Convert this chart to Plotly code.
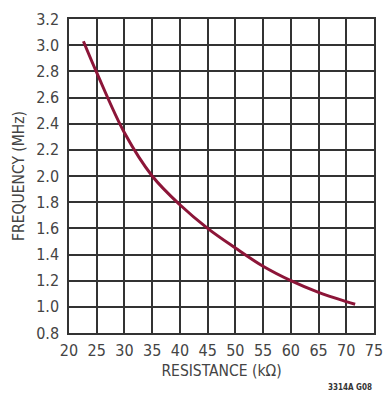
import plotly.graph_objects as go

resistance_kohm = [22.6, 25, 30, 35, 40, 45, 50, 55, 60, 65, 70, 71.6]
frequency_mhz = [3.03, 2.79, 2.33, 2.0, 1.78, 1.6, 1.45, 1.31, 1.2, 1.11, 1.04, 1.02]
x_ticks = list(range(20, 80, 5))
y_ticks = [round(0.8 + 0.2 * i, 1) for i in range(13)]

FONT = "DejaVu Sans Condensed, Liberation Sans Narrow, Arial Narrow, sans-serif"
TXT = "#444444"

fig = go.Figure()
fig.add_trace(go.Scatter(
    x=resistance_kohm, y=frequency_mhz, mode="lines",
    line=dict(color="#8c1538", width=3, shape="spline"),
    showlegend=False, hoverinfo="skip"))

fig.update_layout(
    width=391, height=394,
    margin=dict(l=69, r=8, t=19, b=61),
    paper_bgcolor="white", plot_bgcolor="white",
    font=dict(family=FONT, color=TXT, size=15),
    xaxis=dict(range=[20, 75], tickvals=x_ticks, ticktext=[str(v) for v in x_ticks],
               showgrid=True, gridcolor="#333333", gridwidth=1.5,
               showline=True, linecolor="#333333", linewidth=1.5, mirror=True,
               zeroline=False, ticks="outside", ticklen=2, tickcolor="white",
               tickfont=dict(size=16, family=FONT, color=TXT),
               title=dict(text="RESISTANCE (kΩ)", font=dict(size=15.5, family=FONT, color=TXT), standoff=6)),
    yaxis=dict(range=[0.8, 3.2], tickvals=y_ticks, ticktext=[f"{v:.1f}" for v in y_ticks],
               showgrid=True, gridcolor="#333333", gridwidth=1.5,
               showline=True, linecolor="#333333", linewidth=1.5, mirror=True,
               zeroline=False, ticks="outside", ticklen=5, tickcolor="white",
               tickfont=dict(size=16, family=FONT, color=TXT),
               title=dict(text="FREQUENCY (MHz)", font=dict(size=15.5, family=FONT, color=TXT), standoff=8)),
)
fig.add_annotation(text="<b>3314A G08</b>", xref="paper", yref="paper",
                   x=1.0, y=-0.172, xanchor="right", yanchor="middle", showarrow=False,
                   font=dict(size=8, family=FONT, color="#333333"))
fig.write_html("out.html")
